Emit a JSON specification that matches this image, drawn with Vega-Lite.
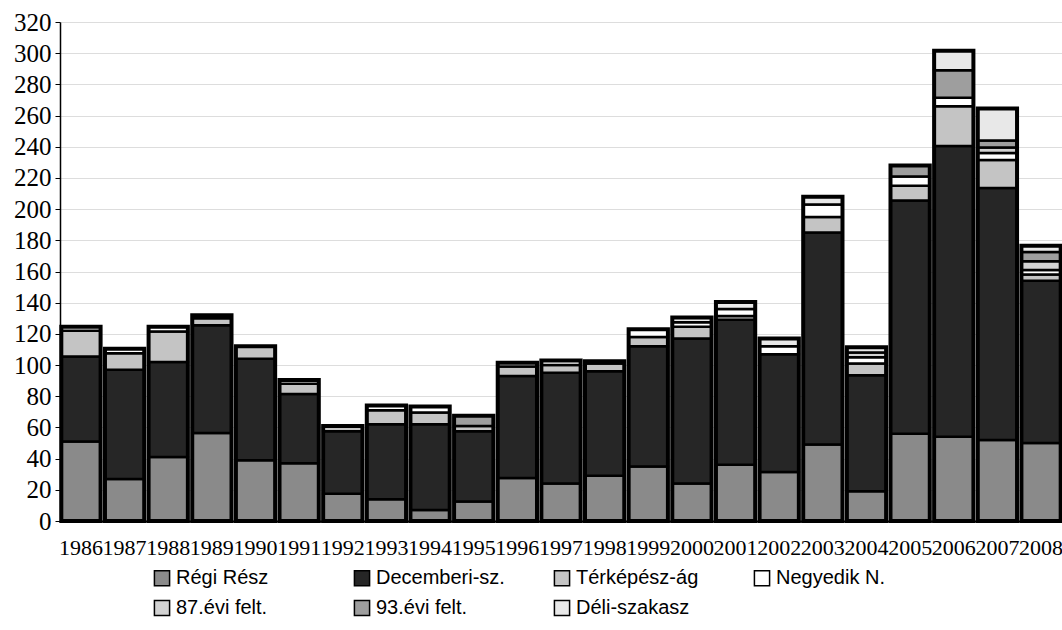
{
  "$schema": "https://vega.github.io/schema/vega-lite/v6.json",
  "width": 1002,
  "height": 499,
  "autosize": {"type": "none"},
  "padding": {"left": 60, "top": 22, "right": 0, "bottom": 109},
  "background": "white",
  "config": {"view": {"stroke": null}, "font": "Liberation Sans", "axis": {"labelOverlap": false}},
  "data": {"values": [
    {"year": "1986", "section": "Régi Rész", "value": 51},
    {"year": "1986", "section": "Decemberi-sz.", "value": 54.5},
    {"year": "1986", "section": "Térképész-ág", "value": 16.5},
    {"year": "1986", "section": "Negyedik N.", "value": 2.5},
    {"year": "1987", "section": "Régi Rész", "value": 27},
    {"year": "1987", "section": "Decemberi-sz.", "value": 70},
    {"year": "1987", "section": "Térképész-ág", "value": 10.5},
    {"year": "1987", "section": "Negyedik N.", "value": 3},
    {"year": "1988", "section": "Régi Rész", "value": 41},
    {"year": "1988", "section": "Decemberi-sz.", "value": 61},
    {"year": "1988", "section": "Térképész-ág", "value": 19.5},
    {"year": "1988", "section": "Negyedik N.", "value": 3},
    {"year": "1989", "section": "Régi Rész", "value": 56.5},
    {"year": "1989", "section": "Decemberi-sz.", "value": 69},
    {"year": "1989", "section": "Térképész-ág", "value": 4.5},
    {"year": "1989", "section": "Negyedik N.", "value": 2},
    {"year": "1990", "section": "Régi Rész", "value": 39},
    {"year": "1990", "section": "Decemberi-sz.", "value": 65},
    {"year": "1990", "section": "Térképész-ág", "value": 8},
    {"year": "1991", "section": "Régi Rész", "value": 37},
    {"year": "1991", "section": "Decemberi-sz.", "value": 44.5},
    {"year": "1991", "section": "Térképész-ág", "value": 6.5},
    {"year": "1991", "section": "Negyedik N.", "value": 2.5},
    {"year": "1992", "section": "Régi Rész", "value": 17.5},
    {"year": "1992", "section": "Decemberi-sz.", "value": 40},
    {"year": "1992", "section": "Térképész-ág", "value": 3.5},
    {"year": "1993", "section": "Régi Rész", "value": 14},
    {"year": "1993", "section": "Decemberi-sz.", "value": 48},
    {"year": "1993", "section": "Térképész-ág", "value": 9},
    {"year": "1993", "section": "Negyedik N.", "value": 3},
    {"year": "1994", "section": "Régi Rész", "value": 7},
    {"year": "1994", "section": "Decemberi-sz.", "value": 55},
    {"year": "1994", "section": "Térképész-ág", "value": 7.5},
    {"year": "1994", "section": "Negyedik N.", "value": 4},
    {"year": "1995", "section": "Régi Rész", "value": 12.5},
    {"year": "1995", "section": "Decemberi-sz.", "value": 45},
    {"year": "1995", "section": "Térképész-ág", "value": 3.5},
    {"year": "1995", "section": "93.évi felt.", "value": 6.5},
    {"year": "1996", "section": "Régi Rész", "value": 27.5},
    {"year": "1996", "section": "Decemberi-sz.", "value": 65.5},
    {"year": "1996", "section": "Térképész-ág", "value": 6},
    {"year": "1996", "section": "Negyedik N.", "value": 2.5},
    {"year": "1997", "section": "Régi Rész", "value": 24},
    {"year": "1997", "section": "Decemberi-sz.", "value": 71},
    {"year": "1997", "section": "Térképész-ág", "value": 5},
    {"year": "1997", "section": "Negyedik N.", "value": 3},
    {"year": "1998", "section": "Régi Rész", "value": 29},
    {"year": "1998", "section": "Decemberi-sz.", "value": 67},
    {"year": "1998", "section": "Térképész-ág", "value": 5},
    {"year": "1998", "section": "Negyedik N.", "value": 1.5},
    {"year": "1999", "section": "Régi Rész", "value": 35},
    {"year": "1999", "section": "Decemberi-sz.", "value": 77},
    {"year": "1999", "section": "Térképész-ág", "value": 6},
    {"year": "1999", "section": "Negyedik N.", "value": 5},
    {"year": "2000", "section": "Régi Rész", "value": 24},
    {"year": "2000", "section": "Decemberi-sz.", "value": 93},
    {"year": "2000", "section": "Térképész-ág", "value": 7.5},
    {"year": "2000", "section": "Negyedik N.", "value": 3},
    {"year": "2000", "section": "Déli-szakasz", "value": 3},
    {"year": "2001", "section": "Régi Rész", "value": 36},
    {"year": "2001", "section": "Decemberi-sz.", "value": 93},
    {"year": "2001", "section": "Térképész-ág", "value": 2.5},
    {"year": "2001", "section": "Negyedik N.", "value": 4.5},
    {"year": "2001", "section": "Déli-szakasz", "value": 4.5},
    {"year": "2002", "section": "Régi Rész", "value": 31.5},
    {"year": "2002", "section": "Decemberi-sz.", "value": 75.5},
    {"year": "2002", "section": "Negyedik N.", "value": 5},
    {"year": "2002", "section": "Déli-szakasz", "value": 5},
    {"year": "2003", "section": "Régi Rész", "value": 49},
    {"year": "2003", "section": "Decemberi-sz.", "value": 136},
    {"year": "2003", "section": "Térképész-ág", "value": 10},
    {"year": "2003", "section": "Negyedik N.", "value": 8},
    {"year": "2003", "section": "Déli-szakasz", "value": 5},
    {"year": "2004", "section": "Régi Rész", "value": 19},
    {"year": "2004", "section": "Decemberi-sz.", "value": 74.5},
    {"year": "2004", "section": "Térképész-ág", "value": 7.5},
    {"year": "2004", "section": "Negyedik N.", "value": 4},
    {"year": "2004", "section": "87.évi felt.", "value": 3},
    {"year": "2004", "section": "Déli-szakasz", "value": 3.5},
    {"year": "2005", "section": "Régi Rész", "value": 56},
    {"year": "2005", "section": "Decemberi-sz.", "value": 149.5},
    {"year": "2005", "section": "Térképész-ág", "value": 9.5},
    {"year": "2005", "section": "Negyedik N.", "value": 6},
    {"year": "2005", "section": "93.évi felt.", "value": 7},
    {"year": "2006", "section": "Régi Rész", "value": 54},
    {"year": "2006", "section": "Decemberi-sz.", "value": 186.5},
    {"year": "2006", "section": "Térképész-ág", "value": 25.5},
    {"year": "2006", "section": "Negyedik N.", "value": 5.5},
    {"year": "2006", "section": "93.évi felt.", "value": 17.5},
    {"year": "2006", "section": "Déli-szakasz", "value": 12.5},
    {"year": "2007", "section": "Régi Rész", "value": 52},
    {"year": "2007", "section": "Decemberi-sz.", "value": 161.5},
    {"year": "2007", "section": "Térképész-ág", "value": 18},
    {"year": "2007", "section": "Negyedik N.", "value": 4.5},
    {"year": "2007", "section": "87.évi felt.", "value": 3.5},
    {"year": "2007", "section": "93.évi felt.", "value": 4.5},
    {"year": "2007", "section": "Déli-szakasz", "value": 20.5},
    {"year": "2008", "section": "Régi Rész", "value": 50},
    {"year": "2008", "section": "Decemberi-sz.", "value": 104},
    {"year": "2008", "section": "Térképész-ág", "value": 4},
    {"year": "2008", "section": "Negyedik N.", "value": 3},
    {"year": "2008", "section": "87.évi felt.", "value": 5.5},
    {"year": "2008", "section": "93.évi felt.", "value": 6},
    {"year": "2008", "section": "Déli-szakasz", "value": 4}
  ]},
  "transform": [
    {"calculate": "indexof(['Régi Rész','Decemberi-sz.','Térképész-ág','Negyedik N.','87.évi felt.','93.évi felt.','Déli-szakasz'], datum.section)", "as": "rank"}
  ],
  "layer": [
    {
      "mark": {"type": "bar", "stroke": "black", "strokeWidth": 2.5},
      "encoding": {
        "x": {
          "field": "year", "type": "ordinal",
          "scale": {"paddingInner": 0.1, "paddingOuter": 0.03},
          "axis": {"title": null, "labelAngle": 0, "labelFont": "Liberation Serif", "labelFontSize": 22, "labelColor": "black", "ticks": false, "labelPadding": 16, "domainColor": "black", "domainWidth": 2, "labelOverlap": false}
        },
        "y": {
          "field": "value", "type": "quantitative",
          "scale": {"domain": [0, 320], "nice": false},
          "axis": {"title": null, "values": [0,20,40,60,80,100,120,140,160,180,200,220,240,260,280,300,320], "labelOverlap": false, "labelFont": "Liberation Serif", "labelFontSize": 25, "labelColor": "black", "tickColor": "black", "tickSize": 5, "labelPadding": 4, "domainColor": "black", "domainWidth": 1.5, "grid": true, "gridColor": "#dddddd"}
        },
        "color": {
          "field": "section", "type": "nominal",
          "scale": {
            "domain": ["Régi Rész", "Decemberi-sz.", "Térképész-ág", "Negyedik N.", "87.évi felt.", "93.évi felt.", "Déli-szakasz"],
            "range": ["#8a8a8a", "#262626", "#c4c4c4", "#ffffff", "#d2d2d2", "#9e9e9e", "#e8e8e8"]
          },
          "legend": {"orient": "none", "legendX": 92, "legendY": 546, "direction": "horizontal", "columns": 4, "title": null, "symbolType": "square", "symbolSize": 230, "symbolStrokeColor": "black", "symbolStrokeWidth": 1.5, "labelFontSize": 20, "labelFont": "Liberation Sans", "labelColor": "black", "columnPadding": 46, "rowPadding": 8, "gridAlign": "all", "labelLimit": 300}
        },
        "order": {"field": "rank", "type": "quantitative"}
      }
    },
    {
      "mark": {"type": "bar", "fill": "white", "fillOpacity": 0, "stroke": "black", "strokeWidth": 4},
      "encoding": {
        "x": {"field": "year", "type": "ordinal",
          "axis": {"title": null, "labelAngle": 0, "labelFont": "Liberation Serif", "labelFontSize": 22, "labelColor": "black", "ticks": false, "labelPadding": 16, "domainColor": "black", "domainWidth": 2, "labelOverlap": false}},
        "y": {"aggregate": "sum", "field": "value", "type": "quantitative",
          "axis": {"title": null, "values": [0,20,40,60,80,100,120,140,160,180,200,220,240,260,280,300,320], "labelOverlap": false, "labelFont": "Liberation Serif", "labelFontSize": 25, "labelColor": "black", "tickColor": "black", "tickSize": 5, "labelPadding": 4, "domainColor": "black", "domainWidth": 1.5, "grid": true, "gridColor": "#dddddd"}}
      }
    }
  ]
}
